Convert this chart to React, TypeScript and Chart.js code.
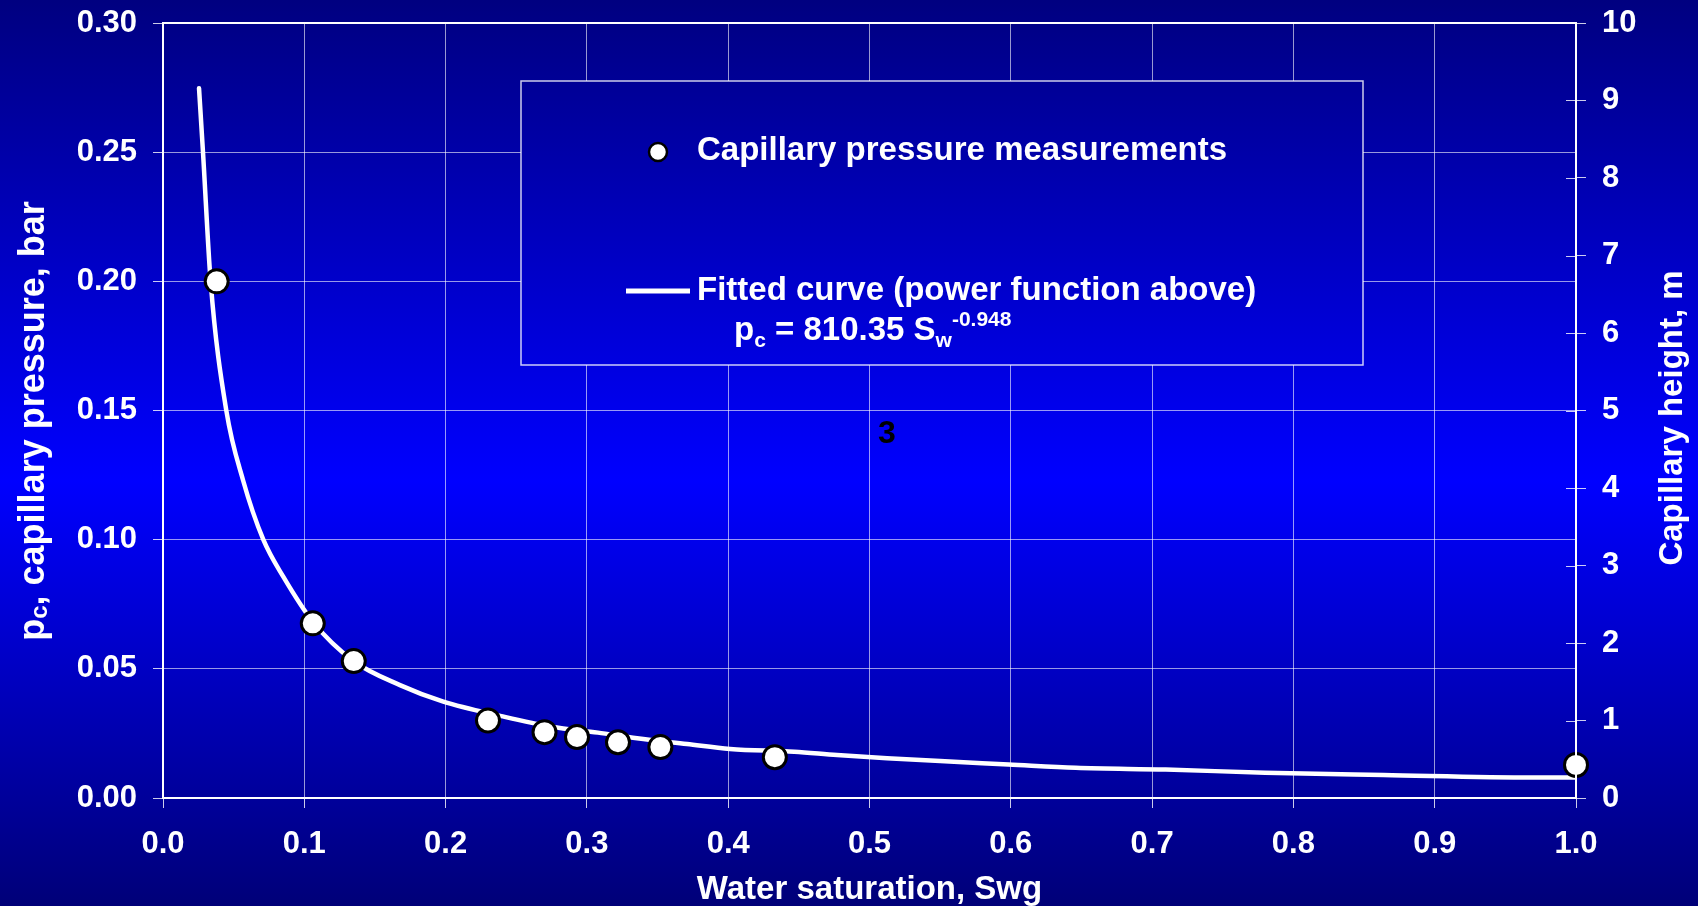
import React, { useEffect, useRef } from "react";
import { Chart, registerables } from "chart.js";

Chart.register(...registerables);

// ---- data ----
const measSw = [0.038, 0.106, 0.135, 0.230, 0.270, 0.293, 0.322, 0.352, 0.433, 1.0];
const measPc = [0.200, 0.0676, 0.0530, 0.0300, 0.0255, 0.0236, 0.0216, 0.0197, 0.0158, 0.0128];

const fitSw = [0.0255, 0.0283, 0.0337, 0.0448, 0.0566, 0.071, 0.0851, 0.1064, 0.1347, 0.1677, 0.1984, 0.2395, 0.2749, 0.3078, 0.3355, 0.3708, 0.4013, 0.4468, 0.477, 0.5124, 0.550, 0.5984, 0.646, 0.7096, 0.780, 0.8638, 0.970, 1.0];
const fitPc = [0.2747, 0.25, 0.20, 0.15, 0.1231, 0.10, 0.0857, 0.068, 0.0531, 0.0437, 0.0373, 0.0317, 0.0276, 0.0253, 0.0231, 0.0209, 0.0190, 0.0179, 0.0166, 0.0154, 0.0143, 0.0130, 0.0117, 0.0110, 0.0098, 0.0089, 0.0079, 0.0079];

const legendLabels = ["Capillary pressure measurements", "Fitted curve (power function above)"];
const equationParts = ["p", "c", " = 810.35 S", "w", "-0.948"];
const xTitle = "Water saturation, Swg";
const yTitleParts = ["p", "c", ", capillary pressure, bar"];
const y2Title = "Capillary height, m";
const annotationText = "3";

const FONT = '"Liberation Sans", Arial, Helvetica, sans-serif';

function bgGradient(ctx: CanvasRenderingContext2D, h: number) {
  const g = ctx.createLinearGradient(0, 0, 0, h);
  g.addColorStop(0, "#000080");
  g.addColorStop(0.53, "#0000FF");
  g.addColorStop(1, "#000078");
  return g;
}

const decorPlugin = {
  id: "decor",
  beforeDraw(chart: any) {
    const { ctx, width, height } = chart;
    ctx.save();
    ctx.fillStyle = bgGradient(ctx, height);
    ctx.fillRect(0, 0, width, height);
    ctx.restore();
  },
  afterDraw(chart: any) {
    const { ctx, chartArea: ca, height } = chart;
    const y1 = chart.scales.y1;
    ctx.save();

    // plot frame
    ctx.strokeStyle = "#FFFFFF";
    ctx.lineWidth = 2;
    ctx.strokeRect(ca.left, ca.top, ca.right - ca.left, ca.bottom - ca.top);

    // inner part of right ticks
    ctx.strokeStyle = "rgba(255,255,255,0.8)";
    ctx.lineWidth = 1;
    y1.ticks.forEach((t: any) => {
      const py = Math.round(y1.getPixelForValue(t.value)) + 0.5;
      ctx.beginPath();
      ctx.moveTo(ca.right - 10, py);
      ctx.lineTo(ca.right, py);
      ctx.stroke();
    });

    // legend box
    const bx = 521, by = 81, bw = 842, bh = 284;
    ctx.fillStyle = bgGradient(ctx, height);
    ctx.fillRect(bx, by, bw, bh);
    ctx.strokeStyle = "rgba(255,255,255,0.8)";
    ctx.lineWidth = 1.5;
    ctx.strokeRect(bx, by, bw, bh);

    // legend marker
    ctx.beginPath();
    ctx.arc(658, 152, 9, 0, Math.PI * 2);
    ctx.fillStyle = "#FFFFFF";
    ctx.fill();
    ctx.lineWidth = 2.5;
    ctx.strokeStyle = "#000000";
    ctx.stroke();

    ctx.fillStyle = "#FFFFFF";
    ctx.textAlign = "left";
    ctx.textBaseline = "alphabetic";
    ctx.font = `bold 33px ${FONT}`;
    ctx.fillText(legendLabels[0], 697, 160);

    // legend line
    ctx.strokeStyle = "#FFFFFF";
    ctx.lineWidth = 5;
    ctx.beginPath();
    ctx.moveTo(626, 291);
    ctx.lineTo(690, 291);
    ctx.stroke();
    ctx.fillText(legendLabels[1], 697, 300);

    // equation
    let ex = 734;
    const eb = 340;
    ctx.font = `bold 33px ${FONT}`;
    ctx.fillText(equationParts[0], ex, eb);
    ex += ctx.measureText(equationParts[0]).width;
    ctx.font = `bold 21px ${FONT}`;
    ctx.fillText(equationParts[1], ex, eb + 7);
    ex += ctx.measureText(equationParts[1]).width;
    ctx.font = `bold 33px ${FONT}`;
    ctx.fillText(equationParts[2], ex, eb);
    ex += ctx.measureText(equationParts[2]).width;
    ctx.font = `bold 21px ${FONT}`;
    ctx.fillText(equationParts[3], ex, eb + 7);
    ex += ctx.measureText(equationParts[3]).width;
    ctx.fillText(equationParts[4], ex, eb - 14);

    // annotation "3"
    ctx.fillStyle = "#000000";
    ctx.font = `bold 32px ${FONT}`;
    ctx.textAlign = "center";
    ctx.textBaseline = "middle";
    ctx.fillText(annotationText, 887, 434);

    // bottom title
    ctx.fillStyle = "#FFFFFF";
    ctx.font = `bold 33px ${FONT}`;
    ctx.textAlign = "center";
    ctx.textBaseline = "alphabetic";
    ctx.fillText(xTitle, (ca.left + ca.right) / 2, 899);

    // left title (with subscript)
    ctx.save();
    ctx.translate(44, 421);
    ctx.rotate(-Math.PI / 2);
    ctx.textAlign = "left";
    const f1 = `bold 36px ${FONT}`;
    const f2 = `bold 24px ${FONT}`;
    ctx.font = f1;
    const w0 = ctx.measureText(yTitleParts[0]).width;
    const w2 = ctx.measureText(yTitleParts[2]).width;
    ctx.font = f2;
    const w1 = ctx.measureText(yTitleParts[1]).width;
    let tx = -(w0 + w1 + w2) / 2;
    ctx.font = f1;
    ctx.fillText(yTitleParts[0], tx, 0);
    tx += w0;
    ctx.font = f2;
    ctx.fillText(yTitleParts[1], tx, 3);
    tx += w1;
    ctx.font = f1;
    ctx.fillText(yTitleParts[2], tx, 0);
    ctx.restore();

    // right title
    ctx.save();
    ctx.translate(1682, 418);
    ctx.rotate(-Math.PI / 2);
    ctx.textAlign = "center";
    ctx.font = `bold 33px ${FONT}`;
    ctx.fillText(y2Title, 0, 0);
    ctx.restore();

    ctx.restore();
  },
};

export default function App() {
  const canvasRef = useRef<HTMLCanvasElement | null>(null);

  useEffect(() => {
    const canvas = canvasRef.current;
    if (!canvas) return;
    const tickFont = { family: FONT, size: 31, weight: "bold" as const };
    const gridColor = "rgba(255,255,255,0.6)";

    const chart = new Chart(canvas, {
      type: "line",
      data: {
        datasets: [
          {
            label: legendLabels[0],
            data: measSw.map((x, i) => ({ x, y: measPc[i] })),
            showLine: false,
            pointRadius: 11.5,
            pointHoverRadius: 11.5,
            pointBackgroundColor: "#FFFFFF",
            pointBorderColor: "#000000",
            pointBorderWidth: 3,
            clip: false as any,
            order: 0,
          },
          {
            label: legendLabels[1],
            data: fitSw.map((x, i) => ({ x, y: fitPc[i] })),
            borderColor: "#FFFFFF",
            borderWidth: 4.5,
            pointRadius: 0,
            cubicInterpolationMode: "monotone",
            borderCapStyle: "round",
            order: 1,
          },
        ],
      },
      options: {
        responsive: false,
        animation: false,
        devicePixelRatio: 1,
        layout: { padding: { top: 23, left: 0, right: 0, bottom: 0 } },
        plugins: {
          legend: { display: false },
          tooltip: { enabled: false },
        },
        scales: {
          x: {
            type: "linear",
            min: 0,
            max: 1,
            afterFit: (s: any) => {
              s.height = 108;
            },
            ticks: {
              stepSize: 0.1,
              autoSkip: false,
              maxRotation: 0,
              color: "#FFFFFF",
              font: tickFont,
              padding: 18,
              callback: (v: any) => Number(v).toFixed(1),
            },
            grid: { color: gridColor, lineWidth: 1, tickLength: 10, tickColor: "rgba(255,255,255,0.8)" },
            border: { color: "#FFFFFF", width: 2 },
          },
          y: {
            type: "linear",
            position: "left",
            min: 0,
            max: 0.3,
            afterFit: (s: any) => {
              s.width = 163;
              s.paddingTop = 0;
              s.paddingBottom = 0;
            },
            ticks: {
              stepSize: 0.05,
              color: "#FFFFFF",
              font: tickFont,
              padding: 16,
              callback: (v: any) => Number(v).toFixed(2),
            },
            grid: { color: gridColor, lineWidth: 1, tickLength: 10, tickColor: "rgba(255,255,255,0.8)" },
            border: { color: "#FFFFFF", width: 2 },
          },
          y1: {
            type: "linear",
            position: "right",
            min: 0,
            max: 10,
            afterFit: (s: any) => {
              s.width = 122;
              s.paddingTop = 0;
              s.paddingBottom = 0;
            },
            ticks: {
              stepSize: 1,
              color: "#FFFFFF",
              font: tickFont,
              padding: 16,
            },
            grid: { drawOnChartArea: false, tickLength: 10, tickColor: "rgba(255,255,255,0.8)" },
            border: { color: "#FFFFFF", width: 2 },
          },
        },
      } as any,
      plugins: [decorPlugin],
    });
    return () => chart.destroy();
  }, []);

  return (
    <div style={{ position: "fixed", left: 0, top: 0, width: 1698, height: 906 }}>
      <canvas ref={canvasRef} width={1698} height={906} style={{ display: "block" }} />
    </div>
  );
}
